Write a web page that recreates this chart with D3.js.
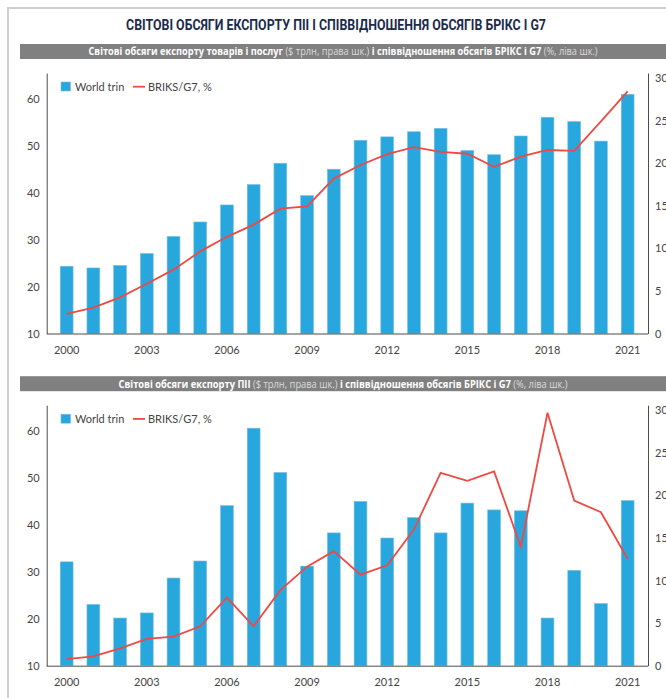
<!DOCTYPE html>
<html>
<head>
<meta charset="utf-8">
<script src="https://cdn.jsdelivr.net/npm/d3@7"></script>
<style>
  body { margin: 0; background: #fff; }
  text { font-family: Lato, "Open Sans", sans-serif; }
</style>
</head>
<body>
<div id="vis-container"></div>
<script>
// years on the x axis
var years = d3.range(2000, 2022);
var tickYears = [2000, 2003, 2006, 2009, 2012, 2015, 2018, 2021];
var leftTicks = [10, 20, 30, 40, 50, 60];
var rightTicks = [0, 5, 10, 15, 20, 25, 30];

// top panel: world exports of goods and services ($ trln) and BRICS/G7 ratio (%)
var tradeTrln = [7.9, 7.7, 8.0, 9.4, 11.4, 13.1, 15.1, 17.5, 20.0, 16.2, 19.3,
                 22.7, 23.1, 23.7, 24.1, 21.5, 21.0, 23.2, 25.4, 24.9, 22.6, 28.1];
var tradeRatio = [14.2, 15.5, 17.7, 20.6, 23.6, 27.5, 30.6, 33.2, 36.6, 37.1, 43.0,
                  45.9, 48.2, 49.7, 48.7, 48.3, 45.5, 47.7, 49.1, 48.9, 55.2, 61.6];

// bottom panel: world FDI exports ($ trln) and BRICS/G7 ratio (%)
var fdiTrln = [12.2, 7.2, 5.6, 6.2, 10.3, 12.3, 18.8, 27.9, 22.7, 11.7, 15.6,
               19.3, 15.0, 17.4, 15.6, 19.1, 18.3, 18.2, 5.6, 11.2, 7.3, 19.4];
var fdiRatio = [11.4, 12.0, 13.7, 15.7, 16.2, 18.4, 24.5, 18.4, 26.1, 31.1, 34.4,
                29.4, 31.4, 39.0, 51.1, 49.4, 51.4, 35.3, 63.9, 45.2, 42.7, 32.8];

var title = "СВІТОВІ ОБСЯГИ ЕКСПОРТУ ПІІ І СПІВВІДНОШЕННЯ ОБСЯГІВ БРІКС І G7";
var subtitleTop = [["Світові обсяги експорту товарів і послуг ", true], ["($ трлн, права шк.) ", false],
                   ["і співвідношення обсягів БРІКС і G7 ", true], ["(%, ліва шк.)", false]];
var subtitleBottom = [["Світові обсяги експорту ПІІ ", true], ["($ трлн, права шк.) ", false],
                      ["і співвідношення обсягів БРІКС і G7 ", true], ["(%, ліва шк.)", false]];
var legendBar = "World trin";
var legendLine = "BRIKS/G7, %";

var width = 666, height = 698;
var barColor = "#27a7de", lineColor = "#ee4a43", axisColor = "#4d4d4d", textColor = "#444";

var svg = d3.select("#vis-container").append("svg")
  .attr("width", width).attr("height", height);

// squeeze a centred text horizontally so it spans the wanted width
function squeeze(sel, cx, cy, target) {
  var w = sel.node().getComputedTextLength();
  var k = w > 0 ? target / w : 1;
  sel.attr("x", 0).attr("y", 0)
    .attr("transform", "translate(" + cx + "," + cy + ") scale(" + k.toFixed(4) + ",1)");
}

// outer frame
svg.append("path")
  .attr("d", "M8,700 L8,8 L670,8")
  .attr("fill", "none").attr("stroke", "#cfcfcf").attr("stroke-width", 2);

// title
var t = svg.append("text")
  .attr("text-anchor", "middle")
  .style("font-family", "Roboto, 'Open Sans', sans-serif")
  .style("font-weight", "bold").style("font-size", "15px")
  .attr("fill", "#1c2b4b")
  .text(title);
squeeze(t, 336, 30, 420);

var x = d3.scaleBand().domain(years).range([53.3, 641]).paddingInner(0.52).paddingOuter(0.26);

function panel(offset, subtitle, subWidth, bars, ratio) {
  var g = svg.append("g").attr("transform", "translate(0," + offset + ")");
  var bottom = 333.5, top = 73;
  var yLeft = d3.scaleLinear().domain([10, 65.5]).range([bottom, top]);
  var yRight = d3.scaleLinear().domain([0, 30.6]).range([bottom, top]);

  // subtitle band
  g.append("rect").attr("x", 20).attr("y", 44).attr("width", 650).attr("height", 15).attr("fill", "#808080");
  var st = g.append("text").attr("text-anchor", "middle")
    .style("font-size", "10px").style("font-family", "'Open Sans', sans-serif");
  subtitle.forEach(function(p) {
    st.append("tspan").text(p[0])
      .attr("fill", p[1] ? "#fff" : "#dcdcdc")
      .style("font-weight", p[1] ? "bold" : "normal");
  });
  squeeze(st, 343, 55.3, subWidth);

  // bars
  g.selectAll("rect.bar").data(bars).enter().append("rect")
    .attr("class", "bar")
    .attr("x", function(d, i) { return x(years[i]); })
    .attr("y", function(d) { return yRight(d); })
    .attr("width", x.bandwidth())
    .attr("height", function(d) { return bottom - yRight(d); })
    .attr("fill", barColor)
    .attr("stroke", "#7fbfdc").attr("stroke-width", 0.6);

  // ratio line
  var line = d3.line()
    .x(function(d, i) { return x(years[i]) + x.bandwidth() / 2; })
    .y(function(d) { return yLeft(d); });
  g.append("path").attr("d", line(ratio))
    .attr("fill", "none").attr("stroke", lineColor).attr("stroke-width", 1.8);

  // axes
  var axL = g.append("g").attr("transform", "translate(46.7,0)")
    .call(d3.axisLeft(yLeft).tickValues(leftTicks).tickSize(0).tickPadding(7));
  var axR = g.append("g").attr("transform", "translate(648,0)")
    .call(d3.axisRight(yRight).tickValues(rightTicks).tickSize(0).tickPadding(7));
  var axB = g.append("g").attr("transform", "translate(0," + bottom + ")")
    .call(d3.axisBottom(x).tickValues(tickYears).tickSize(0).tickPadding(13));
  axB.select(".domain").attr("d", "M46.7,0.5H648");
  [axL, axR, axB].forEach(function(a) {
    a.select(".domain").attr("stroke", axisColor).attr("stroke-width", 1);
    a.selectAll("text").attr("fill", textColor).style("font-size", "11px")
      .style("font-family", "Lato, sans-serif");
  });

  // legend
  g.append("rect").attr("x", 61).attr("y", 82).attr("width", 9.5).attr("height", 9)
    .attr("fill", barColor).attr("stroke", "#7fbfdc").attr("stroke-width", 0.6);
  g.append("text").attr("x", 75).attr("y", 90.5).attr("fill", textColor)
    .style("font-size", "11px").text(legendBar);
  g.append("line").attr("x1", 133).attr("x2", 145).attr("y1", 86.7).attr("y2", 86.7)
    .attr("stroke", lineColor).attr("stroke-width", 1.8);
  g.append("text").attr("x", 148).attr("y", 90.5).attr("fill", textColor)
    .style("font-size", "11px").text(legendLine);
}

panel(0, subtitleTop, 510, tradeTrln, tradeRatio);
panel(332.2, subtitleBottom, 450, fdiTrln, fdiRatio);
</script>
</body>
</html>
